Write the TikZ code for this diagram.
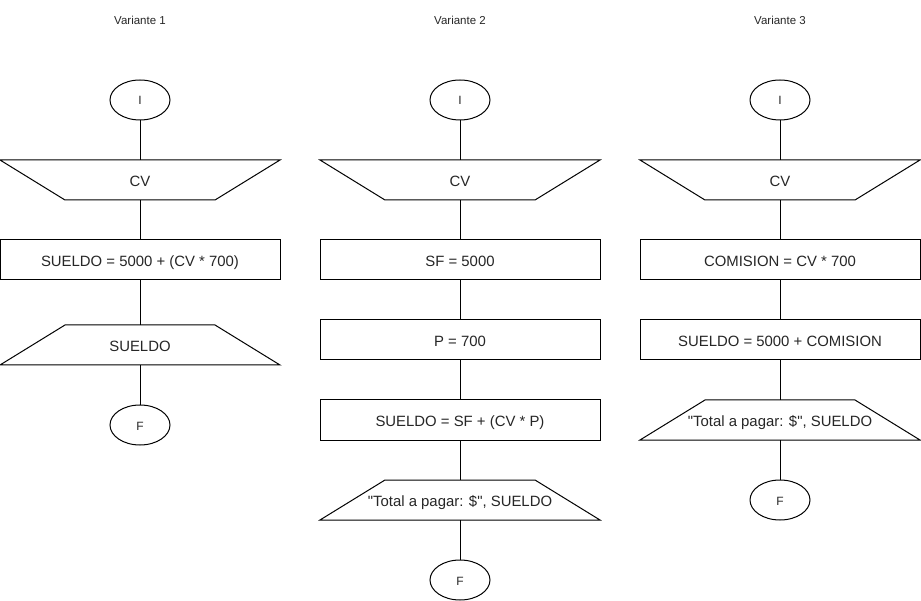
\documentclass[tikz,border=0pt]{standalone}
\usepackage{fontspec}
\setmainfont{Liberation Sans}[Ligatures=TeXOff]
\usetikzlibrary{shapes.geometric}
\tikzset{
  base/.style={minimum width=280pt, minimum height=40pt, inner sep=0pt, outer sep=0pt,
    font=\fontsize{14.9}{17}\selectfont, text=black!85, text height=14pt, text depth=1.2pt},
  box/.style={base, draw, line width=1pt},
  term/.style={ellipse, draw, line width=1pt, minimum width=60pt, minimum height=40pt,
    inner sep=0pt, outer sep=0pt, font=\fontsize{12}{14}\selectfont, text=black!85,
    text height=10pt, text depth=0pt},
  title/.style={font=\fontsize{11.5}{14}\selectfont, text=black!85, inner sep=0pt,
    text height=9.8pt, text depth=0.5pt},
  conn/.style={line width=1pt},
  trap/.style={line width=1pt, line join=miter}
}
\newcommand\trapin[1]{\draw[trap] (#1.north west) -- (#1.north east) -- ([xshift=-65pt]#1.south east) -- ([xshift=65pt]#1.south west) -- cycle;}
\newcommand\trapout[1]{\draw[trap] ([xshift=65pt]#1.north west) -- ([xshift=-65pt]#1.north east) -- (#1.south east) -- (#1.south west) -- cycle;}
\begin{document}
\begin{tikzpicture}[x=1pt,y=-1pt]
\useasboundingbox (0,0) rectangle (921,601);
% titles
\node[title] (t1) at (140,20) {Variante 1};
\node[title] (t2) at (460,20) {Variante 2};
\node[title] (t3) at (780,20) {Variante 3};
% column 1
\node[term] (a1) at (140,100) {I};
\node[base] (a2) at (140,180) {CV}; \trapin{a2}
\node[box] (a3) at (140,260) {SUELDO = 5000 + (CV * 700)};
\node[base] (a4) at (140,345) {SUELDO}; \trapout{a4}
\node[term] (a5) at (140,425) {F};
\draw[conn] (a1.south) -- (a2.north);
\draw[conn] (a2.south) -- (a3.north);
\draw[conn] (a3.south) -- (a4.north);
\draw[conn] (a4.south) -- (a5.north);
% column 2
\node[term] (b1) at (460,100) {I};
\node[base] (b2) at (460,180) {CV}; \trapin{b2}
\node[box] (b3) at (460,260) {SF = 5000};
\node[box] (b4) at (460,340) {P = 700};
\node[box] (b5) at (460,420) {SUELDO = SF + (CV * P)};
\node[base] (b6) at (460,500) {"Total a pagar: \$", SUELDO}; \trapout{b6}
\node[term] (b7) at (460,580) {F};
\draw[conn] (b1.south) -- (b2.north);
\draw[conn] (b2.south) -- (b3.north);
\draw[conn] (b3.south) -- (b4.north);
\draw[conn] (b4.south) -- (b5.north);
\draw[conn] (b5.south) -- (b6.north);
\draw[conn] (b6.south) -- (b7.north);
% column 3
\node[term] (c1) at (780,100) {I};
\node[base] (c2) at (780,180) {CV}; \trapin{c2}
\node[box] (c3) at (780,260) {COMISION = CV * 700};
\node[box] (c4) at (780,340) {SUELDO = 5000 + COMISION};
\node[base] (c5) at (780,420) {"Total a pagar: \$", SUELDO}; \trapout{c5}
\node[term] (c6) at (780,500) {F};
\draw[conn] (c1.south) -- (c2.north);
\draw[conn] (c2.south) -- (c3.north);
\draw[conn] (c3.south) -- (c4.north);
\draw[conn] (c4.south) -- (c5.north);
\draw[conn] (c5.south) -- (c6.north);
\end{tikzpicture}
\end{document}
